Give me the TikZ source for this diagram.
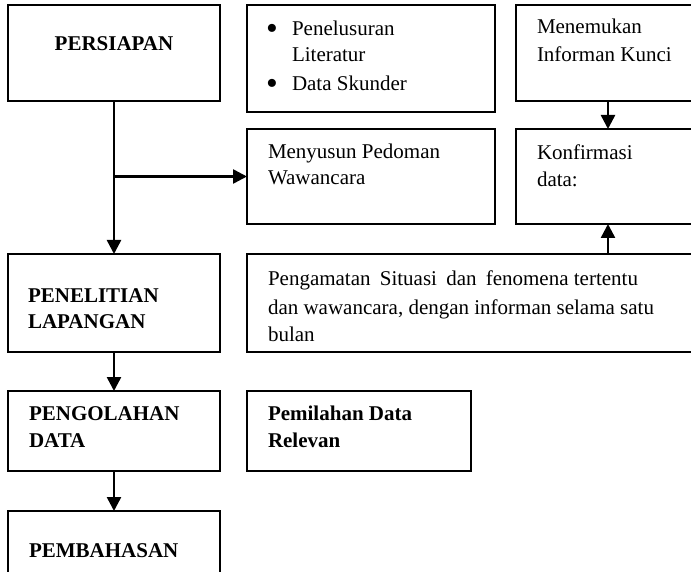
\documentclass[tikz,border=0pt]{standalone}
\usepackage{fontspec}
\setmainfont{Liberation Serif}
\usetikzlibrary{arrows.meta}
\begin{document}
\begin{tikzpicture}[x=1pt,y=-1pt,
  box/.style={draw, line width=1.5pt, rectangle, inner sep=0pt, outer sep=0pt, anchor=north west},
  txt/.style={inner sep=0pt, outer sep=0pt, anchor=base west, font=\fontsize{21}{26}\selectfont},
  btxt/.style={txt, font=\fontsize{21}{26}\selectfont\bfseries},
  arr/.style={line width=2.5pt, -{Triangle[length=14pt,width=14pt]}}]
\useasboundingbox (0,0) rectangle (691,572);
\fill[white] (0,0) rectangle (691,572);
\clip (0,0) rectangle (691,572);
% boxes
\node[box, minimum width=212pt, minimum height=96pt] (persiapan) at (8,5) {};
\node[box, minimum width=248pt, minimum height=107pt] (literatur) at (247,5) {};
\node[box, minimum width=184pt, minimum height=96pt] (menemukan) at (516,5) {};
\node[box, minimum width=248pt, minimum height=95pt] (menyusun) at (247,129) {};
\node[box, minimum width=184pt, minimum height=95pt] (konfirmasi) at (516,129) {};
\node[box, minimum width=212pt, minimum height=98pt] (penelitian) at (8,254) {};
\node[box, minimum width=460pt, minimum height=98pt] (pengamatan) at (247,254) {};
\node[box, minimum width=212pt, minimum height=80pt] (pengolahan) at (8,391) {};
\node[box, minimum width=224pt, minimum height=80pt] (pemilahan) at (247,391) {};
\node[box, minimum width=212pt, minimum height=80pt] (pembahasan) at (8,511) {};
% texts
\node[btxt, anchor=base] (tpersiapan) at (114,51) {PERSIAPAN};
\node[txt] (b1) at (266,36) {\raisebox{-4pt}{\scalebox{1.6}{\textbullet}}};
\node[txt] (tl1) at (292,36) {Penelusuran};
\node[txt] (tl2) at (292,62) {Literatur};
\node[txt] (b2) at (266,91) {\raisebox{-4pt}{\scalebox{1.6}{\textbullet}}};
\node[txt] (tl3) at (292,91) {Data Skunder};
\node[txt] (tm1) at (537,34) {Menemukan};
\node[txt] (tm2) at (537,62) {Informan Kunci};
\node[txt] (ts1) at (268,159) {Menyusun Pedoman};
\node[txt] (ts2) at (268,185) {Wawancara};
\node[txt] (tk1) at (537,160) {Konfirmasi};
\node[txt] (tk2) at (537,187) {data:};
\node[btxt] (tp1) at (28,302) {PENELITIAN};
\node[btxt] (tp2) at (28,328) {LAPANGAN};
\node[txt] (tg1) at (268,286) {\hbox to 370pt{Pengamatan\hfil\ Situasi\hfil\ dan\hfil\ fenomena tertentu}};
\node[txt] (tg2) at (268,314) {dan wawancara, dengan informan selama satu};
\node[txt] (tg3) at (268,341) {bulan};
\node[btxt] (to1) at (29,420) {PENGOLAHAN};
\node[btxt] (to2) at (29,447) {DATA};
\node[btxt] (te1) at (268,420) {Pemilahan Data};
\node[btxt] (te2) at (268,447) {Relevan};
\node[btxt] (tb1) at (29,557) {PEMBAHASAN};
% connectors
\coordinate (branch) at (persiapan.south |- menyusun.west);
\draw[arr] (persiapan.south) -- (penelitian.north);
\draw[arr] (branch) -- (menyusun.west);
\draw[arr] (menemukan.south) -- (konfirmasi.north);
\draw[arr] (konfirmasi.south |- pengamatan.north) -- (konfirmasi.south);
\draw[arr] (penelitian.south) -- (pengolahan.north);
\draw[arr] (pengolahan.south) -- (pembahasan.north);
\end{tikzpicture}
\end{document}
